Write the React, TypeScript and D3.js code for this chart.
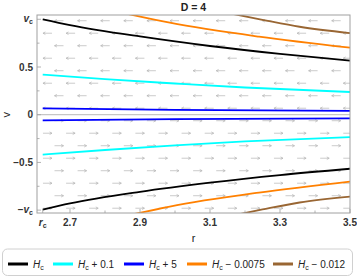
import React from "react";
import * as d3 from "d3";

const W = 357;
const H = 278;
const rc = 2.622;
const vc = 1;

const xTickVals = [rc, 2.7, 2.9, 3.1, 3.3, 3.5];
const xTickLabels = ["rc", "2.7", "2.9", "3.1", "3.3", "3.5"];
const xMinorVals = [2.8, 3.0, 3.2, 3.4];
const yTickVals = [vc, 0.5, 0, -0.5, -vc];
const yTickLabels = ["vc", "0.5", "0", "\u22120.5", "\u2212vc"];
const yMinorVals = [0.75, 0.25, -0.25, -0.75];

const blackUpper: [number, number][] = [[2.622, 1.0], [2.7, 0.94], [2.9, 0.82], [3.1, 0.72], [3.3, 0.637], [3.5, 0.566]];
const blackLower: [number, number][] = [[2.622, -0.995], [2.7, -0.93], [2.9, -0.808], [3.1, -0.712], [3.3, -0.632], [3.5, -0.566]];
const cyanUpper: [number, number][] = [[2.622, 0.42], [2.8, 0.372], [3.0, 0.327], [3.2, 0.285], [3.5, 0.238]];
const cyanLower: [number, number][] = [[2.622, -0.418], [2.8, -0.37], [3.0, -0.322], [3.2, -0.28], [3.5, -0.234]];
const blueUpper: [number, number][] = [[2.622, 0.067], [3.0, 0.05], [3.5, 0.04]];
const blueLower: [number, number][] = [[2.622, -0.059], [3.0, -0.046], [3.5, -0.038]];
const orangeUpper: [number, number][] = [[2.86, 1.06], [2.985, 0.964], [3.24, 0.818], [3.5, 0.702]];
const orangeLower: [number, number][] = [[2.86, -1.06], [2.985, -0.962], [3.24, -0.816], [3.5, -0.7]];
const brownUpper: [number, number][] = [[3.16, 1.06], [3.25, 0.995], [3.356, 0.922], [3.5, 0.856]];
const brownLower: [number, number][] = [[3.16, -1.06], [3.25, -0.993], [3.356, -0.92], [3.5, -0.858]];

const seriesNames = ["Hc", "Hc + 0.1", "Hc + 5", "Hc \u2212 0.0075", "Hc \u2212 0.012"];
const seriesSuffix = ["", " + 0.1", " + 5", " \u2212 0.0075", " \u2212 0.012"];
const seriesColors = ["#000000", "#00ffff", "#0000ff", "#ff8000", "#996633"];
const seriesCurves = [
  [blackUpper, blackLower],
  [cyanUpper, cyanLower],
  [blueUpper, blueLower],
  [orangeUpper, orangeLower],
  [brownUpper, brownLower],
];

// vector field grid (staggered)
const fieldRowTop = 0.985;
const fieldRowStep = 0.131;
const fieldRows = 16;
const fieldColStep = 0.066;
const fieldColStartOdd = 2.6357;
const fieldColStartEven = 2.6686;

const x = d3.scaleLinear().domain([2.6057, 3.5]).range([37, 350]);
const y = d3.scaleLinear().domain([-1.03, 1.045]).range([213, 15]);

const FONT = "'Liberation Sans', Arial, sans-serif";

function LabelWithSub({ lead, letter, sub, tail, size }: { lead: string; letter: string; sub: string; tail: string; size: number }) {
  return (
    <>
      {lead ? <tspan>{lead}</tspan> : null}
      <tspan fontStyle="italic">{letter}</tspan>
      <tspan fontSize={size * 0.7} dy={size * 0.22}>{sub}</tspan>
      {tail ? <tspan dy={-size * 0.22}>{tail}</tspan> : null}
    </>
  );
}

export default function App() {
  const line = d3
    .line<[number, number]>()
    .x((d) => x(d[0]))
    .y((d) => y(d[1]))
    .curve(d3.curveMonotoneX);

  const arrows: { cx: number; cy: number; dir: number }[] = [];
  for (let k = 0; k < fieldRows; k++) {
    const v = fieldRowTop - k * fieldRowStep;
    const start = k % 2 === 0 ? fieldColStartEven : fieldColStartOdd;
    for (let j = 0; j < 15; j++) {
      const r = start + j * fieldColStep;
      if (r > 3.5) break;
      arrows.push({ cx: x(r), cy: y(v), dir: v > 0 ? -1 : 1 });
    }
  }

  const [x0, x1] = x.range();
  const [yb, yt] = y.range();

  const legendX = [8, 53, 124, 187, 273];

  return (
    <svg width={W} height={H} style={{ position: "absolute", left: 0, top: 0 }} fontFamily={FONT}>
      <rect x={0} y={0} width={W} height={H} fill="#fff" />
      <defs>
        <clipPath id="plotclip">
          <rect x={x0} y={yt} width={x1 - x0} height={yb - yt} />
        </clipPath>
      </defs>
      <text x={(x0 + x1) / 2} y={10.5} textAnchor="middle" fontSize={10.5} fontWeight="bold" fill="#222">
        D = 4
      </text>

      {/* zero line */}
      <line x1={x0} x2={x1} y1={y(0)} y2={y(0)} stroke="#b8b8b8" strokeWidth={1} />

      {/* vector field */}
      <g clipPath="url(#plotclip)" stroke="#b4b4b4" strokeWidth={0.7} fill="none">
        {arrows.map((a, i) => {
          const hl = 4.5;
          const tipX = a.cx + a.dir * hl;
          const tailX = a.cx - a.dir * hl;
          return (
            <g key={i}>
              <line x1={tailX} x2={tipX} y1={a.cy} y2={a.cy} />
              <path d={`M${tipX - a.dir * 2.4},${a.cy - 1.3}L${tipX},${a.cy}L${tipX - a.dir * 2.4},${a.cy + 1.3}`} />
            </g>
          );
        })}
      </g>

      {/* curves */}
      <g clipPath="url(#plotclip)" fill="none" strokeWidth={1.8}>
        {seriesCurves.map((pair, i) =>
          pair.map((c, j) => <path key={`${i}-${j}`} d={line(c) || ""} stroke={seriesColors[i]} />)
        )}
      </g>

      {/* frame */}
      <rect x={x0} y={yt} width={x1 - x0} height={yb - yt} fill="none" stroke="#a0a0a0" strokeWidth={1} />

      {/* ticks */}
      <g stroke="#a0a0a0" strokeWidth={0.8}>
        {xTickVals.map((v, i) => (
          <line key={`xt${i}`} x1={x(v)} x2={x(v)} y1={yb} y2={yb - 4} />
        ))}
        {xMinorVals.map((v, i) => (
          <line key={`xm${i}`} x1={x(v)} x2={x(v)} y1={yb} y2={yb - 2.5} />
        ))}
        {yTickVals.map((v, i) => (
          <line key={`yt${i}`} x1={x0} x2={x0 + 4} y1={y(v)} y2={y(v)} />
        ))}
        {yMinorVals.map((v, i) => (
          <line key={`ym${i}`} x1={x0} x2={x0 + 2.5} y1={y(v)} y2={y(v)} />
        ))}
      </g>

      {/* x tick labels */}
      <g fontSize={10} fontWeight="bold" fill="#333" textAnchor="middle">
        {xTickVals.map((v, i) =>
          xTickLabels[i] === "rc" ? (
            <text key={i} x={x(v)} y={226}>
              <LabelWithSub lead="" letter="r" sub="c" tail="" size={10} />
            </text>
          ) : (
            <text key={i} x={x(v)} y={226}>
              {xTickLabels[i]}
            </text>
          )
        )}
      </g>

      {/* y tick labels */}
      <g fontSize={10} fontWeight="bold" fill="#333" textAnchor="end">
        {yTickVals.map((v, i) => {
          const lab = yTickLabels[i];
          if (lab === "vc")
            return (
              <text key={i} x={33} y={y(v) + 3}>
                <LabelWithSub lead="" letter="v" sub="c" tail="" size={10} />
              </text>
            );
          if (lab === "\u2212vc")
            return (
              <text key={i} x={33} y={y(v) + 3}>
                <LabelWithSub lead={"\u2212"} letter="v" sub="c" tail="" size={10} />
              </text>
            );
          return (
            <text key={i} x={33} y={y(v) + 3.5}>
              {lab}
            </text>
          );
        })}
      </g>

      {/* axis titles */}
      <text x={(x0 + x1) / 2} y={242} textAnchor="middle" fontSize={11} fill="#222">
        r
      </text>
      <text transform={`translate(10,${y(0)}) rotate(-90)`} textAnchor="middle" fontSize={11} fill="#222">
        v
      </text>

      {/* legend */}
      <rect x={2.5} y={249} width={350} height={26.5} rx={5} fill="#fff" stroke="#d0d0d0" strokeWidth={1} />
      {seriesNames.map((name, i) => (
        <g key={name}>
          <line x1={legendX[i]} x2={legendX[i] + 20} y1={264} y2={264} stroke={seriesColors[i]} strokeWidth={3} />
          <text x={legendX[i] + 25} y={267.5} fontSize={10} fill="#222">
            <LabelWithSub lead="" letter="H" sub="c" tail={seriesSuffix[i]} size={10} />
          </text>
        </g>
      ))}
    </svg>
  );
}
